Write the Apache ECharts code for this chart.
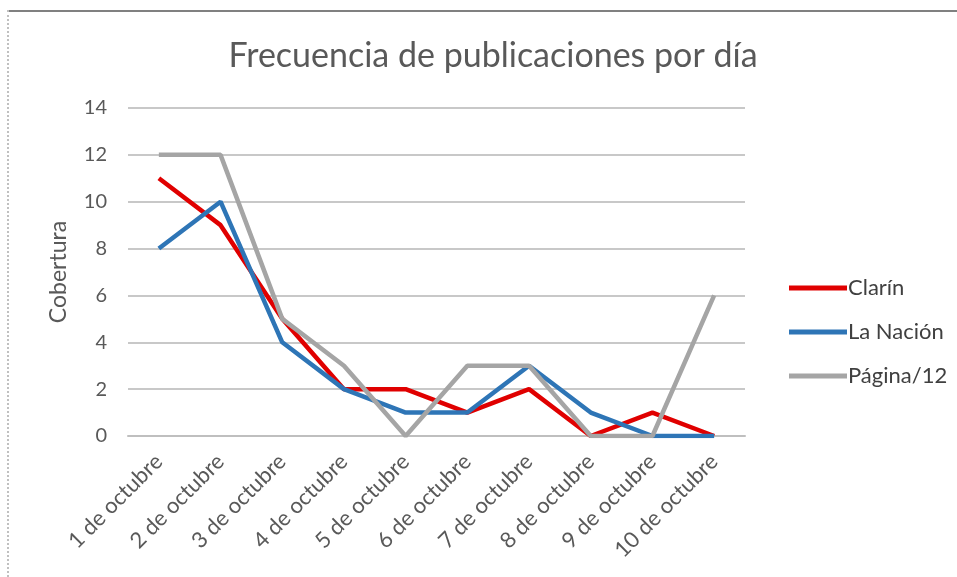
<!DOCTYPE html>
<html>
<head>
<meta charset="utf-8">
<script src="https://cdn.jsdelivr.net/npm/echarts@6/dist/echarts.min.js"></script>
<style>
  html, body { margin: 0; padding: 0; background: #fff; }
  #chart { width: 957px; height: 577px; }
  .edge-top { position: absolute; left: 8px; top: 10px; width: 949px; height: 0; border-top: 2px solid #808080; }
  .edge-left { position: absolute; left: 7px; top: 10px; width: 0; height: 567px; border-left: 2px dotted #c0c0c0; }
</style>
</head>
<body>
<div id="chart"></div>
<div class="edge-top"></div>
<div class="edge-left"></div>
<script>
// categorias y series
const dias = ['1 de octubre', '2 de octubre', '3 de octubre', '4 de octubre', '5 de octubre',
  '6 de octubre', '7 de octubre', '8 de octubre', '9 de octubre', '10 de octubre']
const clarin = [11, 9, 5, 2, 2, 1, 2, 0, 1, 0]
const laNacion = [8, 10, 4, 2, 1, 1, 3, 1, 0, 0]
const pagina12 = [12, 12, 5, 3, 0, 3, 3, 0, 0, 6]

const font = 'Lato, "Open Sans", sans-serif'
const chart = echarts.init(document.getElementById('chart'))

function linea(name, data, color) {
  return {
    name: name,
    type: 'line',
    data: data,
    symbol: 'none',
    lineStyle: { color: color, width: 4.5 },
    itemStyle: { color: color }
  }
}

chart.setOption({
  animation: false,
  title: {
    text: 'Frecuencia de publicaciones por día',
    left: 488,
    textAlign: 'center',
    top: 34,
    textStyle: { color: '#595959', fontSize: 34, fontWeight: 'normal', fontFamily: font }
  },
  legend: {
    orient: 'vertical',
    left: 784,
    top: 272,
    itemGap: 22,
    itemWidth: 58,
    itemHeight: 5,
    icon: 'rect',
    textStyle: { color: '#404040', fontSize: 22, fontFamily: font, padding: [0, 0, 0, -4] },
    data: ['Clarín', 'La Nación', 'Página/12']
  },
  grid: { left: 128, right: 212, top: 108, bottom: 141 },
  xAxis: {
    type: 'category',
    data: dias,
    boundaryGap: true,
    axisLine: { lineStyle: { color: '#bfbfbf', width: 2 } },
    axisTick: { show: false },
    axisLabel: { rotate: 45, color: '#595959', fontSize: 22, fontFamily: font, margin: 22 }
  },
  yAxis: {
    type: 'value',
    min: 0,
    max: 14,
    interval: 2,
    name: 'Cobertura',
    nameLocation: 'middle',
    nameGap: 58,
    nameTextStyle: { color: '#595959', fontSize: 23, fontFamily: font },
    axisLine: { show: false },
    axisTick: { show: false },
    axisLabel: { color: '#595959', fontSize: 20, fontFamily: font, margin: 21 },
    splitLine: { lineStyle: { color: '#c8c8c8', width: 2 } }
  },
  series: [
    linea('Clarín', clarin, '#e00000'),
    linea('La Nación', laNacion, '#2e75b6'),
    linea('Página/12', pagina12, '#a5a5a5')
  ]
})
</script>
</body>
</html>
